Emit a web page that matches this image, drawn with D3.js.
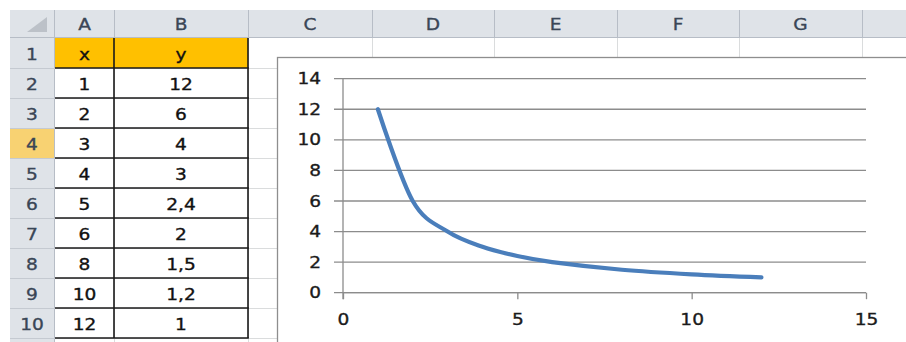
<!DOCTYPE html>
<html><head><meta charset="utf-8">
<script src="https://cdn.jsdelivr.net/npm/d3@7/dist/d3.min.js"></script>
<style>
html,body{margin:0;padding:0;background:#fff;overflow:hidden}
svg{display:block}
text{font-family:"DejaVu Sans",Verdana,sans-serif}
</style></head><body>
<svg id="c" width="906" height="342"></svg>
<script>
// ---- data ----
const xValues = [1, 2, 3, 4, 5, 6, 8, 10, 12];
const yValues = [12, 6, 4, 3, 2.4, 2, 1.5, 1.2, 1];
const headerX = "x";
const headerY = "y";
const colLetters = ["A", "B", "C", "D", "E", "F", "G"];
const rowNumbers = [1, 2, 3, 4, 5, 6, 7, 8, 9, 10];
const xTicks = [0, 5, 10, 15];
const yTicks = [0, 2, 4, 6, 8, 10, 12, 14];

// ---- layout ----
const svg = d3.select("#c");
const colEdges = [55, 114, 248, 372, 494, 617, 739, 862, 985];
const hdrTop = 10, hdrBot = 38, rowH = 30, rowHdrL = 10, rowHdrR = 55;
const nRowsDrawn = 11;
const rowTop = i => hdrBot + i * rowH;
const fmt = d3.formatLocale({decimal: ",", thousands: " ", grouping: [3], currency: ["", ""]}).format("~g");
const SX = 1.16; // horizontal stretch of the screenshot text

function label(px, py, t, color, size) {
  return svg.append("text")
    .attr("transform", `translate(${px},${py}) scale(${SX},1)`)
    .attr("text-anchor", "middle").attr("dominant-baseline", "central")
    .attr("font-size", size).attr("fill", color)
    .attr("stroke", color).attr("stroke-width", 0.35)
    .text(t);
}

// sheet gridlines (light)
const grid = svg.append("g").attr("stroke", "#dadcdd").attr("stroke-width", 1);
for (let i = 1; i <= nRowsDrawn; i++) {
  grid.append("line").attr("x1", rowHdrR).attr("x2", 906)
    .attr("y1", rowTop(i) + 0.5).attr("y2", rowTop(i) + 0.5);
}
colEdges.slice(1).forEach(x => {
  grid.append("line").attr("x1", x + 0.5).attr("x2", x + 0.5).attr("y1", hdrBot).attr("y2", 342);
});

// row 1 header fill
svg.append("rect").attr("x", colEdges[0]).attr("y", rowTop(0)).attr("width", colEdges[2] - colEdges[0])
  .attr("height", rowH).attr("fill", "#ffc000");

// column header
svg.append("rect").attr("x", rowHdrL).attr("y", hdrTop).attr("width", 906 - rowHdrL).attr("height", hdrBot - hdrTop)
  .attr("fill", "#dfe3e8");
svg.append("line").attr("x1", rowHdrL).attr("x2", 906).attr("y1", hdrBot - 0.5).attr("y2", hdrBot - 0.5)
  .attr("stroke", "#b7bdc6");
// row header
svg.append("rect").attr("x", rowHdrL).attr("y", hdrBot).attr("width", rowHdrR - rowHdrL).attr("height", 342 - hdrBot)
  .attr("fill", "#dfe3e8");
svg.append("rect").attr("x", rowHdrL).attr("y", rowTop(3)).attr("width", rowHdrR - rowHdrL).attr("height", rowH)
  .attr("fill", "#f8d272");
svg.append("line").attr("x1", rowHdrR - 0.5).attr("x2", rowHdrR - 0.5).attr("y1", hdrTop).attr("y2", 342)
  .attr("stroke", "#b7bdc6");
colEdges.slice(1, -1).forEach(x => {
  svg.append("line").attr("x1", x + 0.5).attr("x2", x + 0.5).attr("y1", hdrTop).attr("y2", hdrBot)
    .attr("stroke", "#b7bdc6");
});
for (let i = 1; i <= nRowsDrawn; i++) {
  svg.append("line").attr("x1", rowHdrL).attr("x2", rowHdrR).attr("y1", rowTop(i) + 0.5).attr("y2", rowTop(i) + 0.5)
    .attr("stroke", "#c5cad1");
}
// corner triangle
svg.append("path").attr("d", `M27,32 L47,32 L47,17 Z`).attr("fill", "#bcc1c8");

colLetters.forEach((c, i) => label((colEdges[i] + colEdges[i + 1]) / 2, 24.5, c, "#3a4656", 16));
rowNumbers.forEach((r, i) => label(32, rowTop(i) + rowH / 2 + 1.5, r, "#3a4656", 16));

// table texts
const cellText = (col, row, t) => label((colEdges[col] + colEdges[col + 1]) / 2, rowTop(row) + rowH / 2 + 1.5, t, "#111", 16);
cellText(0, 0, headerX); cellText(1, 0, headerY);
xValues.forEach((v, i) => { cellText(0, i + 1, fmt(v)); cellText(1, i + 1, fmt(yValues[i])); });

// table borders
const bd = svg.append("g").attr("stroke", "#1a1a1a").attr("stroke-width", 1.6);
for (let i = 1; i <= xValues.length + 1; i++) {
  bd.append("line").attr("x1", colEdges[0]).attr("x2", colEdges[2] + 0.8).attr("y1", rowTop(i)).attr("y2", rowTop(i));
}
[colEdges[1], colEdges[2]].forEach(x => {
  bd.append("line").attr("x1", x).attr("x2", x).attr("y1", rowTop(0)).attr("y2", rowTop(xValues.length + 1));
});

// ---- chart ----
svg.append("rect").attr("x", 277.5).attr("y", 57.5).attr("width", 700).attr("height", 400)
  .attr("fill", "#fff").attr("stroke", "#8e8e8e").attr("stroke-width", 1.3);

const x = d3.scaleLinear().domain([0, 15]).range([343, 866]);
const y = d3.scaleLinear().domain([0, 14]).range([292.7, 78.7]);

const g = svg.append("g");
g.selectAll("line.grid").data(yTicks).join("line").attr("class", "grid")
  .attr("x1", x(0) - 9).attr("x2", x(15)).attr("y1", d => y(d)).attr("y2", d => y(d))
  .attr("stroke", "#8c8c8c").attr("stroke-width", 1.3);

const yAxis = g.append("g").attr("transform", `translate(${x(0)},0)`)
  .call(d3.axisLeft(y).tickValues(yTicks).tickSize(0).tickPadding(19));
yAxis.select(".domain").attr("stroke", "#8c8c8c").attr("stroke-width", 1.3).attr("d", `M0,${y(14)}V${y(0) + 6.5}`);
yAxis.selectAll("text").attr("font-size", 16).attr("fill", "#1b1b1b").attr("stroke", "#1b1b1b").attr("stroke-width", 0.35)
  .attr("transform", `scale(${SX},1)`).attr("font-family", "DejaVu Sans, Verdana, sans-serif");

const xAxis = g.append("g").attr("transform", `translate(0,${y(0)})`)
  .call(d3.axisBottom(x).tickValues(xTicks).tickSize(6.5).tickPadding(14));
xAxis.select(".domain").attr("stroke", "#8c8c8c").attr("stroke-width", 1.3).attr("d", `M${x(0)},0H${x(15)}`);
xAxis.selectAll(".tick line").attr("stroke", "#8c8c8c").attr("stroke-width", 1.3);
xAxis.selectAll("text").attr("font-size", 16).attr("fill", "#1b1b1b").attr("stroke", "#1b1b1b").attr("stroke-width", 0.35)
  .attr("transform", `scale(${SX},1)`).attr("font-family", "DejaVu Sans, Verdana, sans-serif");

const line = d3.line().x((d, i) => x(xValues[i])).y(d => y(d)).curve(d3.curveCatmullRom.alpha(0));
g.append("path").datum(yValues).attr("d", line).attr("fill", "none")
  .attr("stroke", "#4a7ebb").attr("stroke-width", 4.2).attr("stroke-linecap", "round").attr("stroke-linejoin", "round");
</script>
</body></html>
